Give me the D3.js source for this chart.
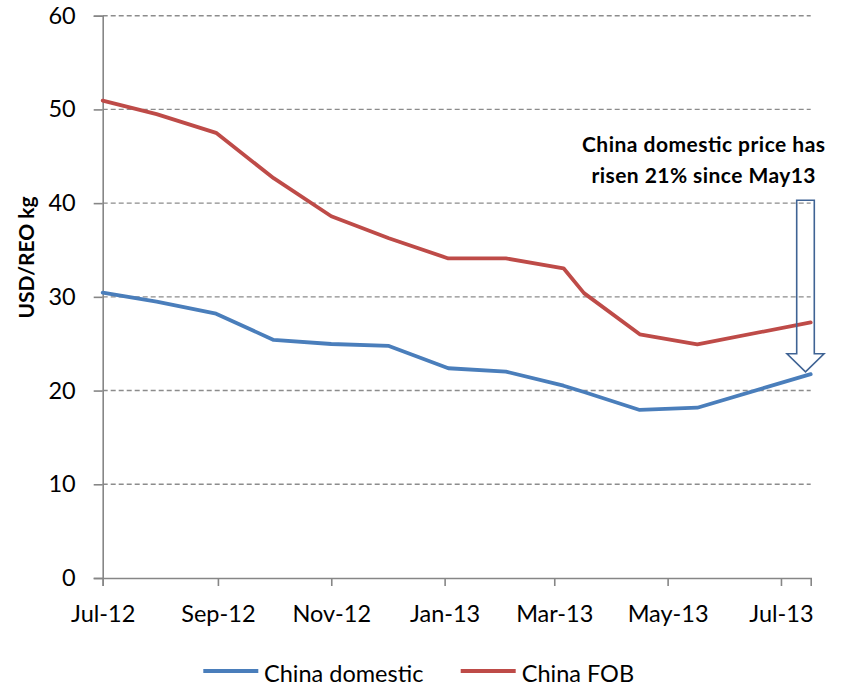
<!DOCTYPE html>
<html>
<head>
<meta charset="utf-8">
<script src="https://cdn.jsdelivr.net/npm/d3@7"></script>
<style>
  body { margin: 0; background: #fff; }
  svg { display: block; }
  text { font-family: Lato, "Open Sans", sans-serif; fill: #000; }
</style>
</head>
<body>
<svg id="chart" width="841" height="685"></svg>
<script>
// ---- data ----
const dates = ["2012-07-01","2012-07-30","2012-08-31","2012-10-01","2012-11-01","2012-12-02",
               "2013-01-03","2013-02-03","2013-03-06","2013-03-17","2013-04-16","2013-05-17","2013-07-17"];
const chinaDomestic = [30.45, 29.5, 28.2, 25.4, 24.97, 24.76, 22.38, 22.02, 20.52, 19.85, 17.93, 18.17, 21.75];
const chinaFOB      = [50.94, 49.5, 47.5, 42.66, 38.6, 36.25, 34.1, 34.1, 33.05, 30.4, 26.0, 24.94, 27.27];
const xTickDates  = ["2012-07-01","2012-09-01","2012-11-01","2013-01-01","2013-03-01","2013-05-01","2013-07-01"];
const xTickLabels = ["Jul-12","Sep-12","Nov-12","Jan-13","Mar-13","May-13","Jul-13"];
const yTicks = [0, 10, 20, 30, 40, 50, 60];
const seriesNames = ["China domestic", "China FOB"];
const annotation = ["China domestic price has", "risen 21% since May13"];
const arrowFrom = 40.3, arrowTo = 22.0;

// ---- layout ----
const W = 841, H = 685;
const m = {left: 102.7, right: 30.3, top: 15.7, bottom: 107};
const parse = d3.utcParse("%Y-%m-%d");
const xDates = dates.map(parse);
const svg = d3.select("#chart");

const x = d3.scaleUtc().domain([xDates[0], xDates[xDates.length - 1]]).range([m.left, W - m.right]);
const y = d3.scaleLinear().domain([0, 60]).range([H - m.bottom, m.top]);

const axisColor = "#868686";
const tickFont = "23.5px";

// gridlines
svg.append("g").selectAll("line").data(yTicks.filter(d => d > 0)).join("line")
  .attr("x1", m.left).attr("x2", W - m.right)
  .attr("y1", d => y(d)).attr("y2", d => y(d))
  .attr("stroke", "#8c8c8c").attr("stroke-width", 1.4).attr("stroke-dasharray", "5,3");

// y axis
const yAxis = svg.append("g").attr("transform", `translate(${m.left},0)`)
  .call(d3.axisLeft(y).tickValues(yTicks).tickSize(9).tickPadding(18).tickFormat(d3.format("d")));
yAxis.select(".domain").attr("stroke", axisColor).attr("stroke-width", 1.6);
yAxis.selectAll(".tick line").attr("stroke", axisColor).attr("stroke-width", 1.6);
yAxis.selectAll(".tick text").style("font-size", tickFont).style("font-family", "Lato, sans-serif").attr("fill", "#000");

// x axis
const xAxis = svg.append("g").attr("transform", `translate(0,${H - m.bottom})`)
  .call(d3.axisBottom(x).tickValues(xTickDates.map(parse)).tickSize(8).tickPadding(19)
        .tickFormat((d, i) => xTickLabels[i]));
xAxis.select(".domain").attr("stroke", axisColor).attr("stroke-width", 1.6);
xAxis.selectAll(".tick line").attr("stroke", axisColor).attr("stroke-width", 1.6);
xAxis.selectAll(".tick text").style("font-size", tickFont).style("font-family", "Lato, sans-serif").attr("fill", "#000");

// y axis title
svg.append("text")
  .attr("transform", `translate(33.5,257.5) rotate(-90)`)
  .attr("text-anchor", "middle")
  .style("font-size", "21px").style("font-weight", "bold")
  .text("USD/REO kg");

// lines
const colors = ["#4a7ebb", "#be4b48"];
const series = [chinaDomestic, chinaFOB];
const line = d3.line().x((d, i) => x(xDates[i])).y(d => y(d));
series.forEach((s, k) => {
  svg.append("path").datum(s)
    .attr("d", line)
    .attr("fill", "none").attr("stroke", colors[k]).attr("stroke-width", 3.8)
    .attr("stroke-linejoin", "round").attr("stroke-linecap", "round");
});

// arrow annotation
const ax = 805.5;
const y0 = y(arrowFrom), y1 = y(arrowTo);
const sw = 8.8, hw = 18.5, hh = 18;
const arrowPath = d3.path();
arrowPath.moveTo(ax - sw, y0);
arrowPath.lineTo(ax + sw, y0);
arrowPath.lineTo(ax + sw, y1 - hh);
arrowPath.lineTo(ax + hw, y1 - hh);
arrowPath.lineTo(ax, y1);
arrowPath.lineTo(ax - hw, y1 - hh);
arrowPath.lineTo(ax - sw, y1 - hh);
arrowPath.closePath();
svg.append("path").attr("d", arrowPath.toString())
  .attr("fill", "none").attr("stroke", "#3f6394").attr("stroke-width", 1.6);

// annotation text
const annoWidths = [243, 224];
svg.selectAll("text.anno").data(annotation).join("text")
  .attr("class", "anno")
  .attr("x", 703.5).attr("y", (d, i) => 152 + i * 31.3)
  .attr("text-anchor", "middle")
  .attr("textLength", (d, i) => annoWidths[i]).attr("lengthAdjust", "spacing")
  .style("font-size", "21px").style("font-weight", "bold")
  .text(d => d);

// legend
const legend = svg.append("g");
const legendItems = [{x: 203.3, tx: 264}, {x: 460.7, tx: 521.7}];
seriesNames.forEach((name, k) => {
  legend.append("line")
    .attr("x1", legendItems[k].x).attr("x2", legendItems[k].x + 55)
    .attr("y1", 671).attr("y2", 671)
    .attr("stroke", colors[k]).attr("stroke-width", 3.8);
  legend.append("text")
    .attr("x", legendItems[k].tx).attr("y", 681.5)
    .style("font-size", "23.5px")
    .text(name);
});
</script>
</body>
</html>
